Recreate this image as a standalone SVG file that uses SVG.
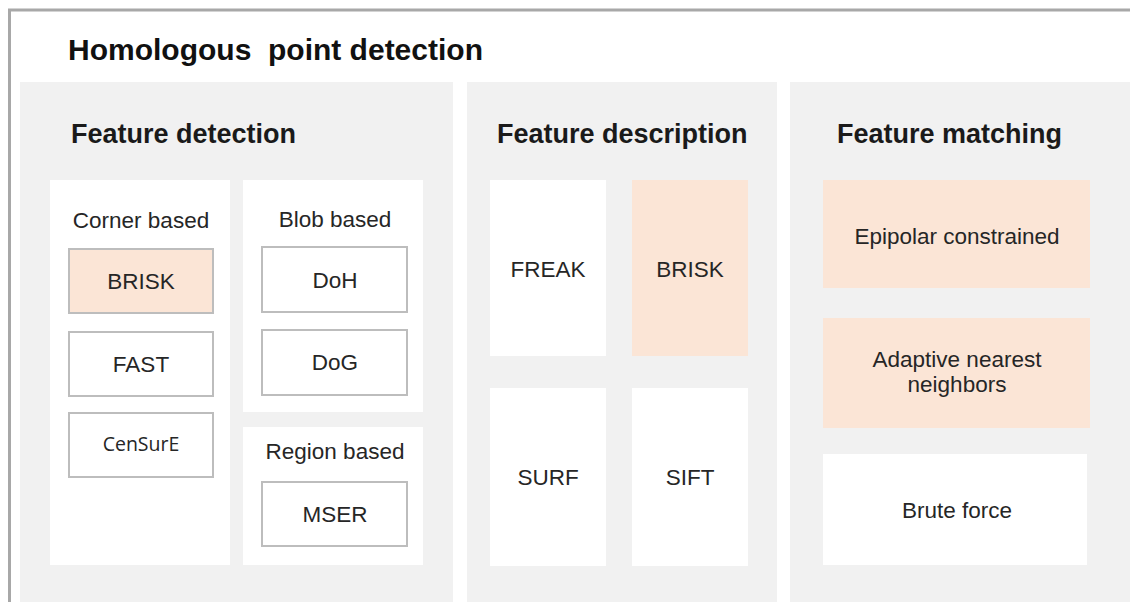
<svg xmlns="http://www.w3.org/2000/svg" width="1130" height="602" viewBox="0 0 1130 602">
<style>
.panel{fill:#f1f1f1}
.card{fill:#ffffff}
.peach{fill:#fbe5d6}
.box{fill:#ffffff;stroke:#bdbdbd;stroke-width:2}
.boxp{fill:#fbe5d6;stroke:#bdbdbd;stroke-width:2}
.t{font-family:"Liberation Sans",Arial,sans-serif;font-size:22.5px;fill:#262626;text-anchor:middle}
.h{font-family:"Liberation Sans",Arial,sans-serif;font-size:27px;font-weight:bold;fill:#1a1a1a}
.title{font-family:"Liberation Sans",Arial,sans-serif;font-size:30px;font-weight:bold;fill:#111}
</style>
<rect x="0" y="0" width="1130" height="602" fill="#ffffff"/>
<g id="frame">
<line x1="8" y1="10" x2="1130" y2="10" stroke="#a8a8a8" stroke-width="3"/>
<line x1="9.5" y1="9" x2="9.5" y2="602" stroke="#a8a8a8" stroke-width="3"/>
</g>
<text class="title" x="68" y="60" xml:space="preserve">Homologous  point detection</text>

<g id="feature-detection">
<rect class="panel" x="20" y="82" width="433" height="520"/>
<text class="h" x="71" y="143">Feature detection</text>
<g id="corner-based">
<rect class="card" x="50" y="180" width="180" height="385"/>
<text class="t" x="141" y="228">Corner based</text>
<g id="c-brisk"><rect class="boxp" x="69" y="249" width="144" height="64"/><text class="t" x="141" y="289">BRISK</text></g>
<g id="c-fast"><rect class="box" x="69" y="332" width="144" height="64"/><text class="t" x="141" y="372">FAST</text></g>
<g id="c-censure"><rect class="box" x="69" y="413" width="144" height="64"/><text class="t" x="141" y="451" style="font-family:'Open Sans','DejaVu Sans',sans-serif;font-size:19.5px">CenSurE</text></g>
</g>
<g id="blob-based">
<rect class="card" x="243" y="180" width="180" height="232"/>
<text class="t" x="335" y="227">Blob based</text>
<g id="b-doh"><rect class="box" x="262" y="247" width="145" height="65"/><text class="t" x="335" y="288">DoH</text></g>
<g id="b-dog"><rect class="box" x="262" y="330" width="145" height="65"/><text class="t" x="335" y="370">DoG</text></g>
</g>
<g id="region-based">
<rect class="card" x="243" y="427" width="180" height="138"/>
<text class="t" x="335" y="459">Region based</text>
<g id="r-mser"><rect class="box" x="262" y="482" width="145" height="64"/><text class="t" x="335" y="522">MSER</text></g>
</g>
</g>

<g id="feature-description">
<rect class="panel" x="467" y="82" width="310" height="520"/>
<text class="h" x="497" y="143">Feature description</text>
<g id="d-freak"><rect class="card" x="490" y="180" width="116" height="176"/><text class="t" x="548" y="277">FREAK</text></g>
<g id="d-brisk"><rect class="peach" x="632" y="180" width="116" height="176"/><text class="t" x="690" y="277">BRISK</text></g>
<g id="d-surf"><rect class="card" x="490" y="388" width="116" height="178"/><text class="t" x="548" y="485">SURF</text></g>
<g id="d-sift"><rect class="card" x="632" y="388" width="116" height="178"/><text class="t" x="690" y="485">SIFT</text></g>
</g>

<g id="feature-matching">
<rect class="panel" x="790" y="82" width="340" height="520"/>
<text class="h" x="837" y="143">Feature matching</text>
<g id="m-epipolar"><rect class="peach" x="823" y="180" width="267" height="108"/><text class="t" x="957" y="244">Epipolar constrained</text></g>
<g id="m-adaptive"><rect class="peach" x="823" y="318" width="267" height="110"/><text class="t" x="957" y="367">Adaptive nearest</text><text class="t" x="957" y="392">neighbors</text></g>
<g id="m-brute"><rect class="card" x="823" y="454" width="264" height="111"/><text class="t" x="957" y="518">Brute force</text></g>
</g>
<g id="connectors"></g>
</svg>
